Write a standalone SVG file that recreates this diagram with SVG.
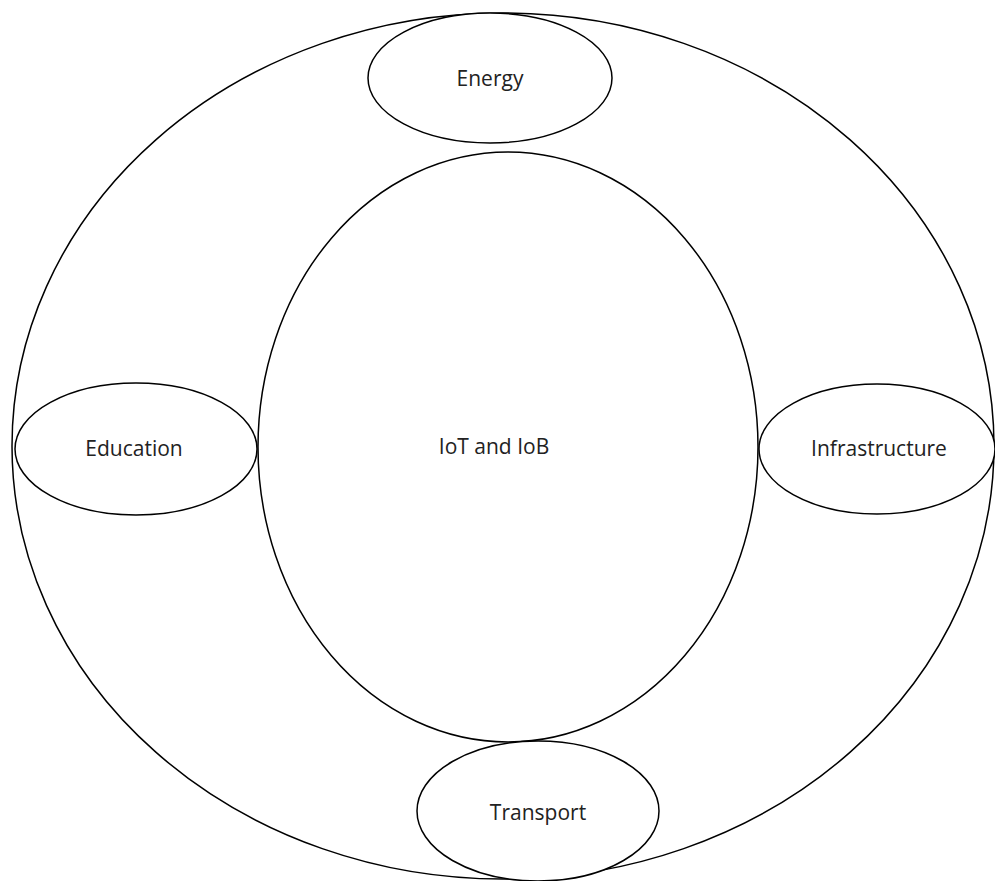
<svg xmlns="http://www.w3.org/2000/svg" width="995" height="881" viewBox="0 0 995 881">
<style>
.s{fill:#fff;stroke:#000;stroke-width:1.5}
.t{font-family:"Open Sans","Noto Sans",sans-serif;font-size:21px;fill:#222;text-anchor:middle}
</style>
<rect width="995" height="881" fill="#fff"/>
<g id="outer"><ellipse class="s" cx="503" cy="446" rx="491" ry="433"/></g>
<g id="core"><ellipse class="s" cx="508" cy="447" rx="250" ry="295"/><text class="t" x="494" y="454">IoT and IoB</text></g>
<g id="energy"><ellipse class="s" cx="490" cy="78" rx="122" ry="65"/><text class="t" x="490" y="86">Energy</text></g>
<g id="education"><ellipse class="s" cx="136" cy="449" rx="121" ry="66"/><text class="t" x="134" y="456">Education</text></g>
<g id="infrastructure"><ellipse class="s" cx="877" cy="449" rx="118" ry="65"/><text class="t" x="879" y="456">Infrastructure</text></g>
<g id="transport"><ellipse class="s" cx="538" cy="811" rx="121" ry="70"/><text class="t" x="538" y="820">Transport</text></g>
<g id="connectors"></g>
</svg>
